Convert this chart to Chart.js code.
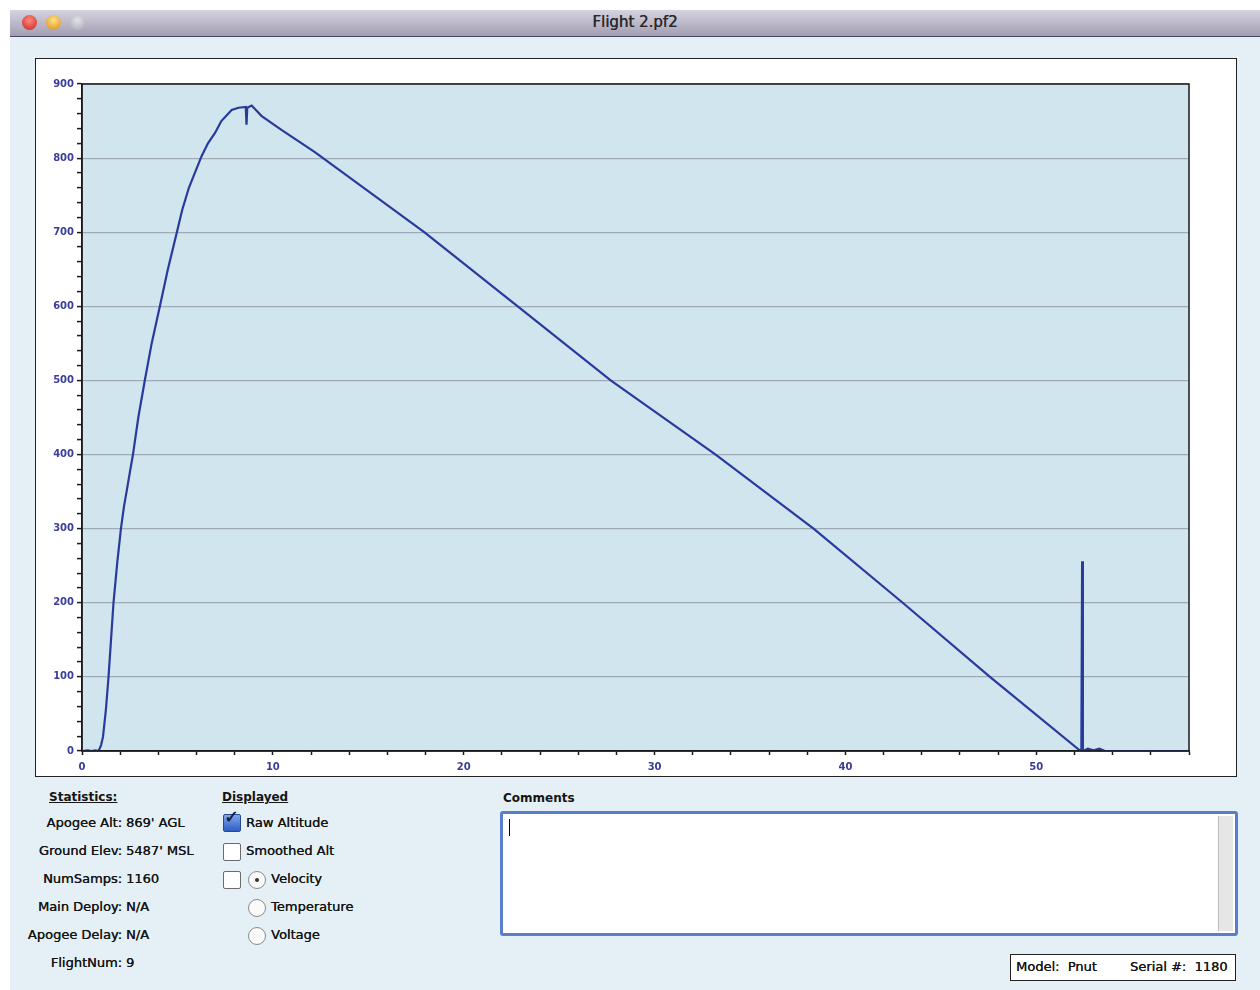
<!DOCTYPE html>
<html>
<head>
<meta charset="utf-8">
<script src="https://cdn.jsdelivr.net/npm/chart.js@4/dist/chart.umd.min.js"></script>
<style>
  body { margin: 0; width: 1260px; height: 990px; background: #fff; position: relative; overflow: hidden; font-family: "DejaVu Sans", sans-serif; }
  #win { position: absolute; left: 10px; top: 10px; width: 1250px; height: 980px; background: #e4f0f5; }
  #titlebar { position: absolute; left: 0; top: 0; width: 1250px; height: 26px; background: linear-gradient(#d6d3e0, #a29eb2); border-bottom: 1px solid #4a4860; }
  #titlebar .t { position: absolute; left: 0; width: 1250px; top: 3px; text-align: center; font-size: 15px; color: #2a2a2a; text-shadow: 0.3px 0 0 #2a2a2a; }
  .btn { position: absolute; top: 5px; width: 15px; height: 15px; border-radius: 50%; }
  #panel { position: absolute; left: 25px; top: 48px; width: 1200px; height: 717px; background: #fff; border: 1px solid #222; }
  #panel canvas { position: absolute; left: 0; top: 0; }
  .lbl { position: absolute; font-size: 13px; color: #151515; white-space: nowrap; text-shadow: 0.3px 0 0 #151515; }
  .hd { font-size: 12px; font-weight: bold; text-decoration: underline; text-shadow: none; }
  .r { text-align: right; width: 120px; }
  .cb { position: absolute; width: 16px; height: 16px; border: 1px solid #6b6b6b; border-radius: 2px; background: #fff; }
  .rb { position: absolute; width: 16px; height: 16px; border: 1px solid #8a8a8a; border-radius: 50%; background: #fafafa; }
  #comments { position: absolute; left: 490px; top: 801px; width: 732px; height: 119px; background: #fff; border: 3px solid #5a7dcc; border-radius: 3px; }
  #scroll { position: absolute; right: 2px; top: 2px; width: 14px; height: 115px; background: #e6e6e6; border-left: 1px solid #bbb; }
  #caret { position: absolute; left: 6px; top: 5px; width: 1px; height: 17px; background: #000; }
  #model { position: absolute; left: 1000px; top: 944px; width: 224px; height: 25px; background: #fff; border: 1px solid #222; }
</style>
</head>
<body>
<div id="win">
  <div id="titlebar">
    <div class="btn" style="left:12px;background:radial-gradient(circle at 50% 35%, #ff8a80, #c8201c);"></div>
    <div class="btn" style="left:36px;background:radial-gradient(circle at 50% 35%, #ffe28a, #d98a10);"></div>
    <div class="btn" style="left:60px;background:radial-gradient(circle at 50% 35%, #e2e2ea, #a8a8b4);"></div>
    <div class="t">Flight 2.pf2</div>
  </div>

  <div id="panel"><canvas id="myChart" width="1200" height="717"></canvas></div>

  <div class="lbl hd" style="left:39px;top:780px;">Statistics:</div>
  <div class="lbl r" style="left:-8px;top:805px;">Apogee Alt:</div>
  <div class="lbl" style="left:116px;top:805px;">869' AGL</div>
  <div class="lbl r" style="left:-8px;top:833px;">Ground Elev:</div>
  <div class="lbl" style="left:116px;top:833px;">5487' MSL</div>
  <div class="lbl r" style="left:-8px;top:861px;">NumSamps:</div>
  <div class="lbl" style="left:116px;top:861px;">1160</div>
  <div class="lbl r" style="left:-8px;top:889px;">Main Deploy:</div>
  <div class="lbl" style="left:116px;top:889px;">N/A</div>
  <div class="lbl r" style="left:-8px;top:917px;">Apogee Delay:</div>
  <div class="lbl" style="left:116px;top:917px;">N/A</div>
  <div class="lbl r" style="left:-8px;top:945px;">FlightNum:</div>
  <div class="lbl" style="left:116px;top:945px;">9</div>

  <div class="lbl hd" style="left:212px;top:780px;">Displayed</div>
  <div class="cb" style="left:213px;top:804px;background:linear-gradient(#7fa6ea,#2f5fc4);border-color:#2a4a90;"></div>
  <div class="lbl" style="left:214px;top:796px;font-size:18px;color:#10204a;font-weight:bold;">&#10003;</div>
  <div class="lbl" style="left:236px;top:805px;">Raw Altitude</div>
  <div class="cb" style="left:213px;top:833px;"></div>
  <div class="lbl" style="left:236px;top:833px;">Smoothed Alt</div>
  <div class="cb" style="left:213px;top:861px;"></div>
  <div class="rb" style="left:238px;top:861px;"><div style="position:absolute;left:6px;top:6px;width:4px;height:4px;border-radius:50%;background:#333;"></div></div>
  <div class="lbl" style="left:261px;top:861px;">Velocity</div>
  <div class="rb" style="left:238px;top:889px;"></div>
  <div class="lbl" style="left:261px;top:889px;">Temperature</div>
  <div class="rb" style="left:238px;top:917px;"></div>
  <div class="lbl" style="left:261px;top:917px;">Voltage</div>

  <div class="lbl" style="left:493px;top:781px;font-size:12px;font-weight:bold;text-shadow:none;">Comments</div>
  <div id="comments"><div id="caret"></div><div id="scroll"></div></div>

  <div id="model">
    <div class="lbl" style="left:5px;top:4px;">Model:&nbsp; Pnut</div>
    <div class="lbl" style="left:119px;top:4px;">Serial #:&nbsp; 1180</div>
  </div>
</div>

<script>
// flight time (s) and raw altitude (ft AGL)
const times = [
  0, 0.3, 0.5, 0.7, 0.87, 1.0, 1.1, 1.25, 1.39, 1.52, 1.65, 1.85, 2.04, 2.2, 2.35, 2.5, 2.67, 2.95,
  3.29, 3.65, 4.08, 4.5, 4.97, 5.25, 5.6, 6.27, 6.6, 6.97, 7.3, 7.84, 8.2, 8.58, 8.62, 8.66, 8.89,
  9.4, 10.45, 12.2, 12.63, 17.93, 22.83, 27.7, 33.2, 38.33, 43.0, 47.57,
  52.27, 52.36, 52.4, 52.44, 52.7, 53.0, 53.3, 53.6, 54.5, 58
];
const altitude = [
  0, 1, 0, 1, 0, 8, 19, 55, 100, 150, 200, 255, 300, 330, 352, 375, 400, 450,
  500, 550, 600, 650, 700, 730, 760, 803, 820, 834, 850, 865, 868, 869, 845, 868, 871,
  857, 838, 808, 800, 700, 600, 500, 400, 300, 200, 100,
  1, 0, 256, 0, 3, 1, 3, 0, 0, 0
];

const xMax = 58;
const yMax = 900;

const plotFrame = {
  id: 'plotFrame',
  beforeDraw(chart) {
    const { ctx, chartArea: a } = chart;
    ctx.save();
    ctx.fillStyle = '#d0e5ee';
    ctx.fillRect(a.left, a.top, a.right - a.left, a.bottom - a.top);
    ctx.restore();
  },
  afterDraw(chart) {
    const { ctx, chartArea: a } = chart;
    ctx.save();
    ctx.strokeStyle = '#1a1a1a';
    ctx.lineWidth = 1.5;
    ctx.strokeRect(a.left, a.top, a.right - a.left, a.bottom - a.top);
    ctx.restore();
  }
};

const tickFont = { family: 'DejaVu Sans', size: 10, weight: 'bold' };

const ctx = document.getElementById('myChart').getContext('2d');
const myChart = new Chart(ctx, {
  type: 'line',
  data: {
    datasets: [{
      label: 'Raw Altitude',
      data: times.map((t, i) => ({ x: t, y: altitude[i] })),
      borderColor: '#283a9c',
      borderWidth: 2.2,
      pointRadius: 0,
      tension: 0,
      fill: false
    }]
  },
  options: {
    responsive: false,
    animation: false,
    layout: { padding: { top: 25, right: 47, left: 0, bottom: 0 } },
    plugins: { legend: { display: false }, tooltip: { enabled: false } },
    scales: {
      x: {
        type: 'linear', min: 0, max: xMax,
        afterFit: s => { s.height = 25; },
        border: { color: '#1a1a1a', width: 1.5 },
        grid: { drawOnChartArea: false, tickLength: 4, tickColor: '#1a1a1a', tickWidth: 1.5 },
        ticks: {
          stepSize: 2, autoSkip: false, maxRotation: 0, padding: 6,
          color: '#3b3d9a', font: tickFont,
          callback: v => (v % 10 === 0 ? v : '')
        }
      },
      y: {
        type: 'linear', min: 0, max: yMax,
        afterFit: s => { s.width = 46; },
        border: { color: '#1a1a1a', width: 1.5 },
        grid: {
          color: c => (c.tick && c.tick.value % 100 === 0 ? '#9eaab6' : 'rgba(0,0,0,0)'),
          lineWidth: 1.2,
          tickLength: 5, tickColor: '#1a1a1a', tickWidth: 1.5
        },
        ticks: {
          stepSize: 20, autoSkip: false, padding: 3,
          color: '#3b3d9a', font: tickFont,
          callback: v => (v % 100 === 0 ? v : '')
        }
      }
    }
  },
  plugins: [plotFrame]
});
</script>
</body>
</html>
